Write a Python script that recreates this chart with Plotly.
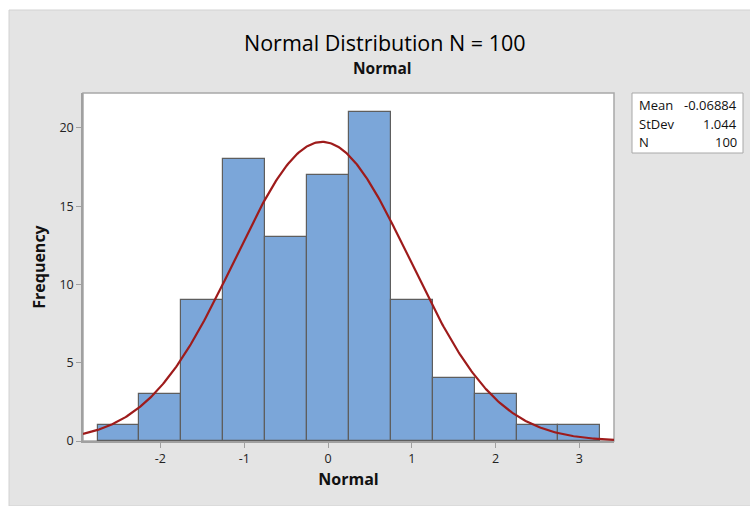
import numpy as np
import plotly.graph_objects as go

# ---- data ----
bin_centers = [-2.5, -2.0, -1.5, -1.0, -0.5, 0.0, 0.5, 1.0, 1.5, 2.0, 2.5, 3.0]
counts = [1, 3, 9, 18, 13, 17, 21, 9, 4, 3, 1, 1]
bin_width = 0.5
MEAN = -0.06884
STDEV = 1.044
N = 100
x_ticks = [-2, -1, 0, 1, 2, 3]
y_ticks = [0, 5, 10, 15, 20]
stat_labels = ["Mean", "StDev", "N"]
stat_values = ["-0.06884", "1.044", "100"]

# ---- geometry (pixels) ----
W, H = 750, 506
L, R, T, B = 83, 614, 93, 441
pw, ph = R - L, B - T
def px(x):
    return (x - L) / pw
def py(y):
    return (B - y) / ph

X_RANGE = [-2.924, 3.413]
Y_RANGE = [0, 22.23]

FONT = "Open Sans"

# fitted normal curve across the axis range
xc = np.linspace(X_RANGE[0], X_RANGE[1], 400)
yc = N * bin_width * np.exp(-0.5 * ((xc - MEAN) / STDEV) ** 2) / (STDEV * np.sqrt(2 * np.pi))

fig = go.Figure()
fig.add_trace(go.Bar(
    x=bin_centers, y=counts, width=[bin_width] * len(counts),
    marker=dict(color="#7BA6D9", line=dict(color="#5E5E5E", width=1.2)),
    hoverinfo="x+y", showlegend=False,
))
fig.add_trace(go.Scatter(
    x=xc, y=yc, mode="lines", line=dict(color="#9E1B1B", width=2.2),
    showlegend=False, cliponaxis=True,
))

shapes = [
    # gray panel background
    dict(type="rect", xref="paper", yref="paper", layer="below",
         x0=px(9), x1=px(751), y0=py(506), y1=py(10),
         fillcolor="#E4E4E4", line=dict(color="#D2D2D2", width=1)),
    # plot frame
    dict(type="rect", xref="paper", yref="paper", layer="below",
         x0=0, x1=1, y0=0, y1=1, fillcolor="white",
         line=dict(color="#A8A8A8", width=1.5)),
    # stats box
    dict(type="rect", xref="paper", yref="paper", layer="above",
         x0=px(632), x1=px(743), y0=py(153), y1=py(93),
         fillcolor="white", line=dict(color="#A8A8A8", width=1)),
]

annotations = [
    dict(text="Normal Distribution N = 100", x=px(385), y=py(43), xref="paper", yref="paper",
         showarrow=False, font=dict(family=FONT, size=21.5, color="#000000"),
         xanchor="center", yanchor="middle"),
    dict(text="<b>Normal</b>", x=px(382), y=py(68), xref="paper", yref="paper",
         showarrow=False, font=dict(family=FONT, size=15.5, color="#111111"),
         xanchor="center", yanchor="middle"),
]
row_y = [105, 124, 142]
for lab, val, yy in zip(stat_labels, stat_values, row_y):
    annotations.append(dict(text=lab, x=px(637), y=py(yy), xref="paper", yref="paper",
                            showarrow=False, xanchor="left", yanchor="middle",
                            font=dict(family=FONT, size=13, color="#111111")))
    annotations.append(dict(text=val, x=px(739), y=py(yy), xref="paper", yref="paper",
                            showarrow=False, xanchor="right", yanchor="middle",
                            font=dict(family=FONT, size=13, color="#111111")))

fig.update_layout(
    width=W, height=H,
    margin=dict(l=L, r=W - R, t=T, b=H - B, pad=0),
    paper_bgcolor="white", plot_bgcolor="rgba(0,0,0,0)",
    bargap=0,
    shapes=shapes, annotations=annotations,
    font=dict(family=FONT, color="#222222"),
    xaxis=dict(range=X_RANGE, tickvals=x_ticks, ticktext=[str(v) for v in x_ticks],
               ticks="outside", ticklen=5, tickcolor="#A0A0A0", tickwidth=1,
               showgrid=False, zeroline=False, showline=True, linecolor="#A0A0A0", linewidth=1.5,
               tickfont=dict(family=FONT, size=12.5, color="#222222"),
               title=dict(text="<b>Normal</b>", font=dict(family=FONT, size=16, color="#111111"), standoff=8)),
    yaxis=dict(range=Y_RANGE, tickvals=y_ticks, ticks="outside", ticklen=5, tickcolor="#A0A0A0",
               tickwidth=1, showgrid=False, zeroline=False, showline=True, linecolor="#A0A0A0", linewidth=1.5,
               tickfont=dict(family=FONT, size=12.5, color="#222222"),
               title=dict(text="<b>Frequency</b>", font=dict(family=FONT, size=16, color="#111111"), standoff=10)),
)

fig.write_html("out.html")
